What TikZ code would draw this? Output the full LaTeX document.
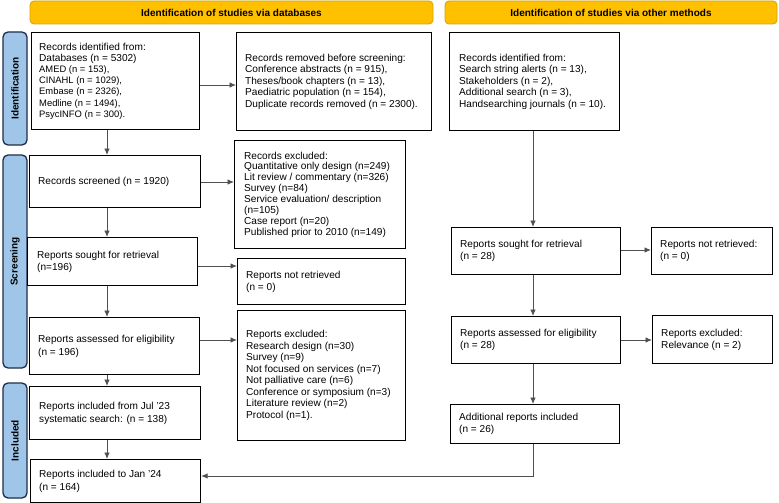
\documentclass[tikz,border=0pt]{standalone}
\usepackage{fontspec}
\setmainfont{Liberation Sans}
\usetikzlibrary{arrows.meta}
\definecolor{gold}{HTML}{FFC000}
\definecolor{goldedge}{HTML}{D6A200}
\definecolor{barblue}{HTML}{9FC5E8}
\definecolor{baredge}{HTML}{1F2D4A}
\definecolor{linegray}{HTML}{505050}
\newcommand\smallln{\fontsize{9.4}{10}\selectfont}
\tikzset{
  box/.style={draw=black, line width=1.1pt, anchor=north west, inner sep=0pt},
  txt/.style={anchor=west, align=left, inner sep=0pt, font=\fontsize{10.1}{11.2}\selectfont},
  banner/.style={draw=goldedge, fill=gold, rounded corners=4pt, line width=0.8pt,
    inner sep=0pt, font=\bfseries\fontsize{10}{12}\selectfont},
  sidebar/.style={draw=baredge, fill=barblue, rounded corners=5pt, line width=1.3pt,
    inner sep=0pt, rotate=90, font=\bfseries\fontsize{10}{12}\selectfont},
  arr/.style={draw=linegray, line width=0.9pt, -{Latex[length=6.5pt,width=5.5pt]}},
}
\begin{document}
\begin{tikzpicture}[x=1pt,y=-1pt]
\useasboundingbox[fill=white] (0,0) rectangle (779,503);

% banners
\node[banner, minimum width=403pt, minimum height=23pt] (b1) at (231.5,12.5) {Identification of studies via databases};
\node[banner, minimum width=332pt, minimum height=23pt] (b2) at (611,12.5) {Identification of studies via other methods};

% side bars
\node[sidebar, minimum width=113pt, minimum height=24pt] (s1) at (15,88.5) {Identification};
\node[sidebar, minimum width=213pt, minimum height=24pt] (s2) at (15,261.5) {Screening};
\node[sidebar, minimum width=115pt, minimum height=24pt] (s3) at (15,440.5) {Included};

% left column boxes
\node[box, minimum width=168pt, minimum height=97pt] (id1) at (31,32) {};
\node[txt] (id1t) at ([xshift=8pt]id1.west)
 {Records identified from:\\Databases (n = 5302)\\
  \smallln AMED (n = 153),\\\smallln CINAHL (n = 1029),\\\smallln Embase (n = 2326),\\\smallln Medline (n = 1494),\\\smallln PsycINFO (n = 300).};
\node[box, minimum width=195pt, minimum height=98pt] (rem) at (236,32) {};
\node[txt, font=\fontsize{10.1}{11.5}\selectfont] (remt) at ([xshift=9pt]rem.west)
 {Records removed before screening:\\Conference abstracts (n = 915),\\Theses/book chapters (n = 13),\\Paediatric population (n = 154),\\Duplicate records removed (n = 2300).};
\node[box, minimum width=171pt, minimum height=52pt] (scr) at (29,155) {};
\node[txt] (scrt) at ([xshift=9pt]scr.west) {Records screened (n = 1920)};
\node[box, minimum width=171pt, minimum height=108pt] (exc) at (234,140) {};
\node[txt, font=\fontsize{10.1}{10.9}\selectfont] (exct) at ([xshift=10pt]exc.west)
 {Records excluded:\\Quantitative only design (n=249)\\Lit review / commentary (n=326)\\Survey (n=84)\\Service evaluation/ description\\(n=105)\\Case report (n=20)\\Published prior to 2010 (n=149)};
\node[box, minimum width=170pt, minimum height=48pt] (soL) at (27,237) {};
\node[txt, font=\fontsize{10.1}{12}\selectfont] (soLt) at ([xshift=10pt]soL.west)
 {Reports sought for retrieval\\(n=196)};
\node[box, minimum width=168pt, minimum height=46pt] (nrL) at (237,258) {};
\node[txt, font=\fontsize{10.1}{11.7}\selectfont] (nrLt) at ([xshift=9pt]nrL.west)
 {Reports not retrieved\\(n = 0)};
\node[box, minimum width=170pt, minimum height=57pt] (asL) at (29,317) {};
\node[txt, font=\fontsize{10.1}{13}\selectfont] (asLt) at ([xshift=9pt]asL.west)
 {Reports assessed for eligibility\\(n = 196)};
\node[box, minimum width=168pt, minimum height=130pt] (exL) at (237,310) {};
\node[txt, font=\fontsize{10.1}{11.5}\selectfont] (exLt) at ([xshift=9pt]exL.west)
 {Reports excluded:\\Research design (n=30)\\Survey (n=9)\\Not focused on services (n=7)\\Not palliative care (n=6)\\Conference or symposium (n=3)\\Literature review (n=2)\\Protocol (n=1).};
\node[box, minimum width=171pt, minimum height=53pt] (inJ) at (29,386) {};
\node[txt, font=\fontsize{10.1}{12.7}\selectfont] (inJt) at ([xshift=10pt]inJ.west)
 {Reports included from Jul '23\\systematic search: (n = 138)};
\node[box, minimum width=170pt, minimum height=43pt] (jan) at (30,459) {};
\node[txt, font=\fontsize{10.1}{13}\selectfont] (jant) at ([xshift=9pt]jan.west)
 {Reports included to Jan '24\\(n = 164)};

% right column boxes
\node[box, minimum width=170pt, minimum height=98pt] (oth) at (449,32) {};
\node[txt, font=\fontsize{10.1}{11.5}\selectfont] (otht) at ([xshift=10pt]oth.west)
 {Records identified from:\\Search string alerts (n = 13),\\Stakeholders (n = 2),\\Additional search (n = 3),\\Handsearching journals (n = 10).};
\node[box, minimum width=169pt, minimum height=47pt] (soR) at (451,227) {};
\node[txt, font=\fontsize{10.1}{12}\selectfont] (soRt) at ([xshift=9pt]soR.west)
 {Reports sought for retrieval\\(n = 28)};
\node[box, minimum width=121pt, minimum height=47pt] (nrR) at (651,227) {};
\node[txt, font=\fontsize{10.1}{12}\selectfont] (nrRt) at ([xshift=9pt]nrR.west)
 {Reports not retrieved:\\(n = 0)};
\node[box, minimum width=169pt, minimum height=47pt] (asR) at (451,316) {};
\node[txt, font=\fontsize{10.1}{12}\selectfont] (asRt) at ([xshift=9pt]asR.west)
 {Reports assessed for eligibility\\(n = 28)};
\node[box, minimum width=120pt, minimum height=48pt] (exR) at (652,315) {};
\node[txt, font=\fontsize{10.1}{11.7}\selectfont] (exRt) at ([xshift=9pt]exR.west)
 {Reports excluded:\\Relevance (n = 2)};
\node[box, minimum width=169pt, minimum height=39pt] (add) at (450,404) {};
\node[txt, font=\fontsize{10.1}{12}\selectfont] (addt) at ([xshift=9pt]add.west)
 {Additional reports included\\(n = 26)};

% guide coordinates
\coordinate (cL) at (107,0);
\coordinate (cR) at (533,0);
\coordinate (h1) at (0,85);
\coordinate (h2) at (0,182);
\coordinate (h3) at (0,266);
\coordinate (h4) at (0,340);
\coordinate (h5) at (0,250);
\coordinate (h6) at (0,476);

% left connectors
\draw[arr] (id1.south -| cL) -- (scr.north -| cL);
\draw[arr] (scr.south -| cL) -- (soL.north -| cL);
\draw[arr] (soL.south -| cL) -- (asL.north -| cL);
\draw[arr] (asL.south -| cL) -- (inJ.north -| cL);
\draw[arr] (inJ.south -| cL) -- (jan.north -| cL);
\draw[arr] (id1.east |- h1) -- (rem.west |- h1);
\draw[arr] (scr.east |- h2) -- (exc.west |- h2);
\draw[arr] (soL.east |- h3) -- (nrL.west |- h3);
\draw[arr] (asL.east |- h4) -- (exL.west |- h4);

% right connectors
\draw[arr] (oth.south -| cR) -- (soR.north -| cR);
\draw[arr] (soR.south -| cR) -- (asR.north -| cR);
\draw[arr] (asR.south -| cR) -- (add.north -| cR);
\draw[arr] (soR.east |- h5) -- (nrR.west |- h5);
\draw[arr] (asR.east |- h4) -- (exR.west |- h4);
\draw[arr] (add.south -| cR) |- (jan.east |- h6);
\end{tikzpicture}
\end{document}
